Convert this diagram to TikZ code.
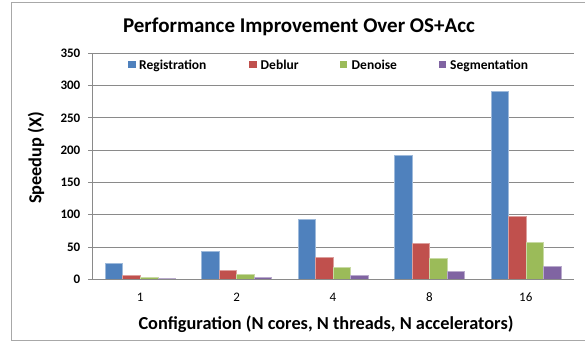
\documentclass[tikz,border=0pt]{standalone}
\usepackage{fontspec}
\setmainfont{Carlito}
\definecolor{regblue}{HTML}{4F81BD}
\definecolor{debred}{HTML}{C0504D}
\definecolor{dengreen}{HTML}{9BBB59}
\definecolor{segpurple}{HTML}{8064A2}
\definecolor{gridgray}{HTML}{8A8A8A}
\definecolor{framegray}{HTML}{A8A8A8}
\begin{document}
\begin{tikzpicture}[x=1pt,y=-1pt,
  gridline/.style={draw=gridgray,line width=0.9pt},
  axisline/.style={draw=gridgray,line width=0.9pt},
  chartframe/.style={draw=framegray,line width=0.9pt},
  barpart/.style={fill=#1,draw=#1!55!white,line width=0.4pt},
  ylabnum/.style={font=\bfseries\fontsize{13}{15}\selectfont,anchor=east,inner sep=0pt},
  catlab/.style={font=\fontsize{13}{15}\selectfont,anchor=base,inner sep=0pt},
  legtext/.style={font=\bfseries\fontsize{13.5}{15}\selectfont,anchor=base west,inner sep=0pt},
  axtitle/.style={font=\bfseries\fontsize{18.3}{21}\selectfont,inner sep=0pt},
  legkey/.style={fill=#1}]
\useasboundingbox (0,0) rectangle (585,343);

% outer chart frame (open on the right)
\draw[chartframe] (585,2) -- (11,2) -- (11,340.7) -- (585,340.7);

% title
\node[font=\bfseries\fontsize{21}{24}\selectfont,anchor=base,inner sep=0pt] (title) at (299,32.3) {Performance Improvement Over OS+Acc};

% horizontal gridlines and value labels
\foreach \v in {50,100,...,350}{
  \draw[gridline] (88,279.3-\v*0.6457) -- (574,279.3-\v*0.6457);
}
\foreach \v in {0,50,...,350}{
  \node[ylabnum] (yt\v) at (80.5,279.3-\v*0.6457) {\v};
}

% bars
\foreach \i/\lab/\va/\vb/\vc/\vd in {0/1/25/6/3.5/2, 1/2/44/14/8.5/3.5, 2/4/93/34/18.5/6.5, 3/8/192.5/55.5/32.5/13, 4/16/292/98.5/57.5/20}{
  \pgfmathsetmacro\gx{92+\i*96.4+13.15}
  \foreach \v/\col [count=\j from 0] in {\va/regblue,\vb/debred,\vc/dengreen,\vd/segpurple}{
    \filldraw[barpart=\col] (\gx+\j*17.53,279.3) rectangle (\gx+\j*17.53+17.53,279.3-\v*0.6457);
  }
  \node[catlab] (cat\i) at (92+\i*96.4+48.2,301) {\lab};
}

% axes
\draw[axisline] (92,53.3) -- (92,279.3);
\draw[axisline] (88,279.3) -- (574,279.3);

% legend
\fill[legkey=regblue] (128.3,61) rectangle (135.6,68.3);
\node[legtext] (lreg) at (139,69) {Registration};
\fill[legkey=debred] (249.3,61) rectangle (256.6,68.3);
\node[legtext] (ldeb) at (260.5,69) {Deblur};
\fill[legkey=dengreen] (340,61) rectangle (347.3,68.3);
\node[legtext] (lden) at (351.5,69) {Denoise};
\fill[legkey=segpurple] (439,61) rectangle (446.3,68.3);
\node[legtext] (lseg) at (450,69) {Segmentation};

% axis titles
\node[axtitle,rotate=90] (ylab) at (36,158) {Speedup (X)};
\node[axtitle,anchor=base] (xlab) at (326,329) {Configuration (N cores, N threads, N accelerators)};
\end{tikzpicture}
\end{document}
